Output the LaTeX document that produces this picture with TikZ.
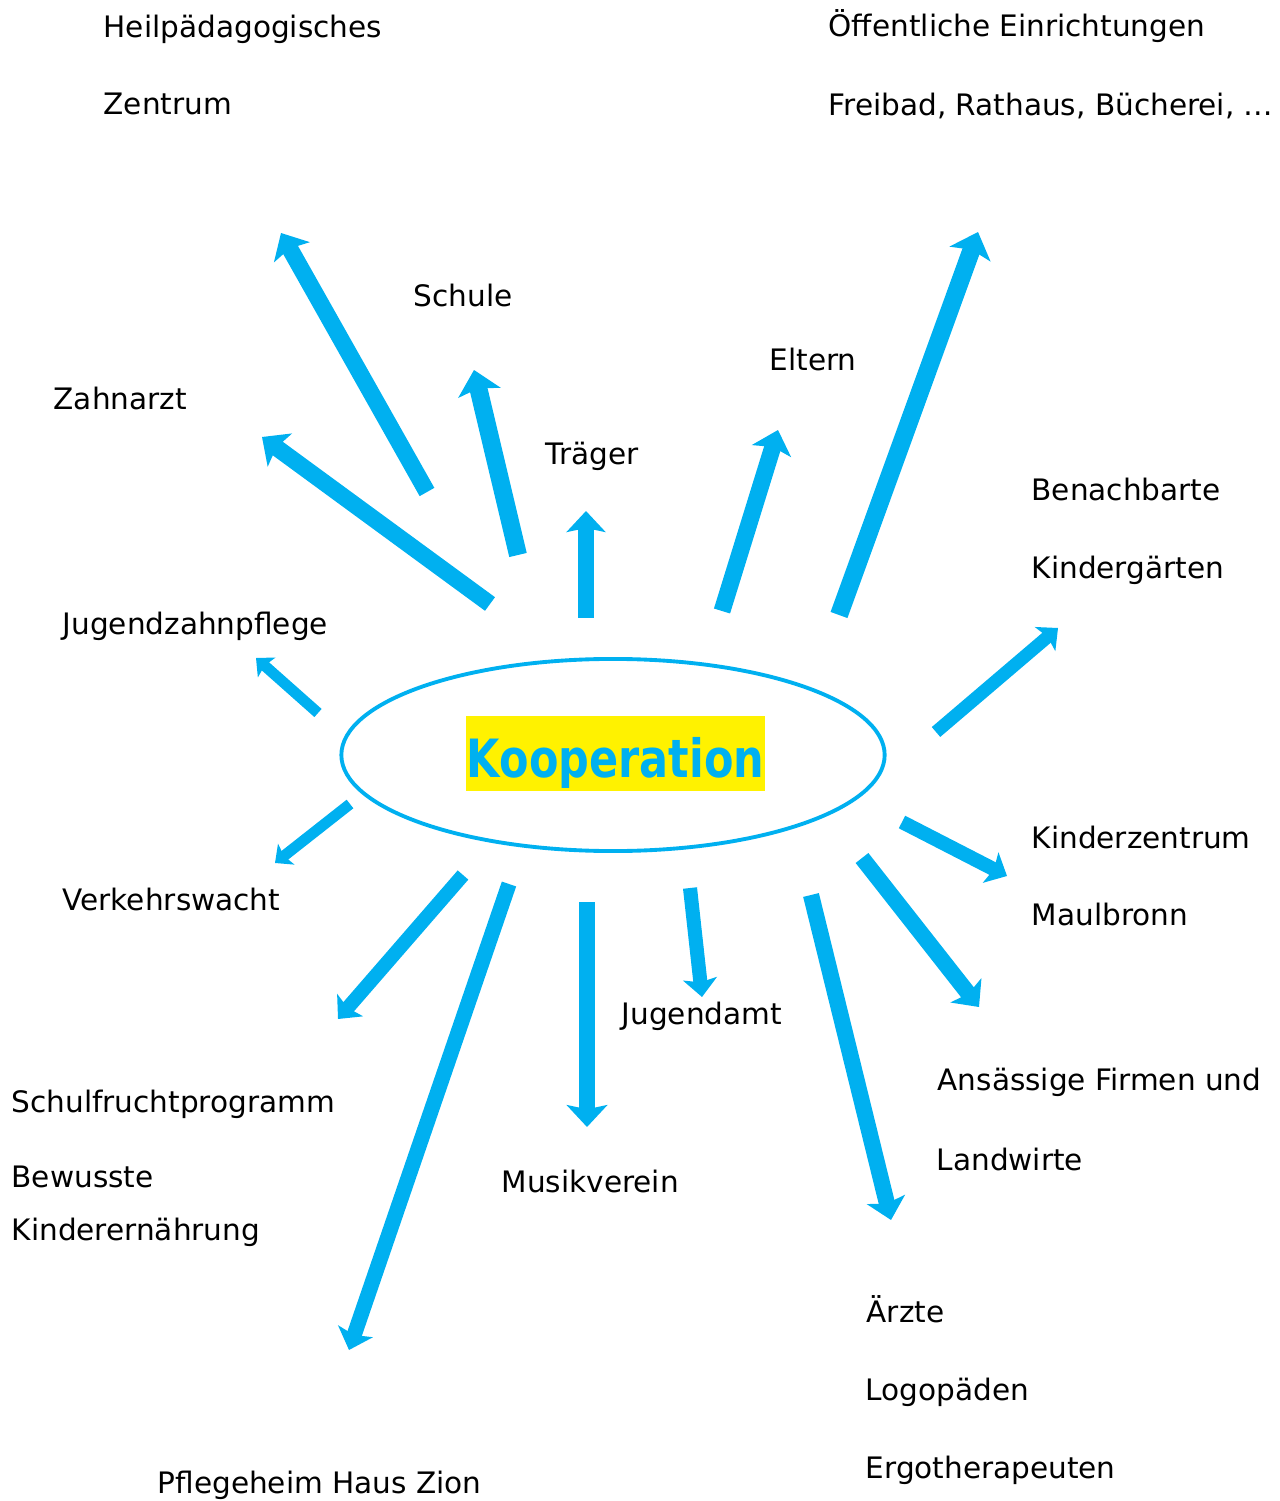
\documentclass[tikz,border=0pt]{standalone}
\usepackage{fontspec}
\setmainfont{DejaVu Sans}
\usepackage{tikz}
\usetikzlibrary{arrows.meta,shapes.geometric}

\definecolor{koopblau}{RGB}{0,176,240}

\tikzset{
	txt/.style={anchor=base west, inner sep=0pt, font=\fontsize{8.4}{10}\selectfont},
	pfeil/.style={draw=koopblau, line width=#1, -{Stealth[length=0pt 1.3, width=0pt 2.4, inset=0pt 0.25]}}
}

\begin{document}
\begin{tikzpicture}[x=0.01cm, y=-0.01cm]
	\useasboundingbox (0,0) rectangle (1279,1501);

	\node[ellipse, draw=koopblau, line width=1.1pt, minimum width=5.43cm, minimum height=1.92cm] (koop) at (613,755) {};
	\node[fill=yellow, text=koopblau, font=\bfseries\fontsize{15}{17}\selectfont, inner sep=0pt, minimum width=2.99cm, text height=0.61cm, text depth=0.14cm] (titel) at (615.5,753.5) {\scalebox{0.815}[1]{Kooperation}};

	\node[txt] (heil1) at (103,38) {Heilpädagogisches};
	\node[txt] (heil2) at (103,115) {Zentrum};
	\node[txt] (oeff1) at (828,37) {Öffentliche Einrichtungen};
	\node[txt] (oeff2) at (828,116) {Freibad, Rathaus, Bücherei, …};
	\node[txt] (schule) at (413,307) {Schule};
	\node[txt] (eltern) at (769,371) {Eltern};
	\node[txt] (zahnarzt) at (53,410) {Zahnarzt};
	\node[txt] (traeger) at (545,465) {Träger};
	\node[txt] (bena1) at (1031,501) {Benachbarte};
	\node[txt] (bena2) at (1031,579) {Kindergärten};
	\node[txt] (jzp) at (62,634) {Jugendzahnpflege};
	\node[txt] (verkehr) at (62,910) {Verkehrswacht};
	\node[txt] (kiz1) at (1031,848) {Kinderzentrum};
	\node[txt] (kiz2) at (1031,925) {Maulbronn};
	\node[txt] (jugendamt) at (621,1024) {Jugendamt};
	\node[txt] (firmen1) at (937,1090) {Ansässige Firmen und};
	\node[txt] (firmen2) at (936,1170) {Landwirte};
	\node[txt] (obst) at (11,1112) {Schulfruchtprogramm};
	\node[txt] (musik) at (501,1192) {Musikverein};
	\node[txt] (ernaehr1) at (11,1187) {Bewusste};
	\node[txt] (ernaehr2) at (11,1240) {Kinderernährung};
	\node[txt] (aerzte) at (866,1322) {Ärzte};
	\node[txt] (logo) at (865,1400) {Logopäden};
	\node[txt] (ergo) at (865,1478) {Ergotherapeuten};
	\node[txt] (pflege) at (157,1493) {Pflegeheim Haus Zion};

	% Heilpaedagogisches Zentrum
	\coordinate (heil-a) at (427,492);
	\coordinate (heil-b) at (281,233);
	\draw[pfeil=4.8pt] (heil-a) -- (heil-b);
	% Zahnarzt
	\coordinate (zahn-a) at (490,604);
	\coordinate (zahn-b) at (262,437);
	\draw[pfeil=4.8pt] (zahn-a) -- (zahn-b);
	% Schule
	\coordinate (schule-a) at (518,555);
	\coordinate (schule-b) at (474,370);
	\draw[pfeil=5.1pt] (schule-a) -- (schule-b);
	% Traeger
	\coordinate (traeger-a) at (586,618);
	\coordinate (traeger-b) at (586,511);
	\draw[pfeil=4.6pt] (traeger-a) -- (traeger-b);
	% Eltern
	\coordinate (eltern-a) at (722,611);
	\coordinate (eltern-b) at (778,430);
	\draw[pfeil=4.8pt] (eltern-a) -- (eltern-b);
	% Oeffentliche Einrichtungen
	\coordinate (oeff-a) at (839,615);
	\coordinate (oeff-b) at (978,232);
	\draw[pfeil=5.1pt] (oeff-a) -- (oeff-b);
	% Benachbarte Kindergaerten
	\coordinate (bena-a) at (936,732);
	\coordinate (bena-b) at (1058,628);
	\draw[pfeil=3.7pt] (bena-a) -- (bena-b);
	% Kinderzentrum
	\coordinate (kiz-a) at (902,822);
	\coordinate (kiz-b) at (1007,876);
	\draw[pfeil=4pt] (kiz-a) -- (kiz-b);
	% Firmen und Landwirte
	\coordinate (firmen-a) at (862,858);
	\coordinate (firmen-b) at (979,1007);
	\draw[pfeil=4.6pt] (firmen-a) -- (firmen-b);
	% Aerzte
	\coordinate (aerzte-a) at (811,895);
	\coordinate (aerzte-b) at (891,1220);
	\draw[pfeil=4.6pt] (aerzte-a) -- (aerzte-b);
	% Jugendamt
	\coordinate (jamt-a) at (690,888);
	\coordinate (jamt-b) at (702,997);
	\draw[pfeil=4pt] (jamt-a) -- (jamt-b);
	% Musikverein
	\coordinate (musik-a) at (587,902);
	\coordinate (musik-b) at (587,1127);
	\draw[pfeil=4.8pt] (musik-a) -- (musik-b);
	% Pflegeheim
	\coordinate (pflege-a) at (509,884);
	\coordinate (pflege-b) at (349,1350);
	\draw[pfeil=4.3pt] (pflege-a) -- (pflege-b);
	% Schulfrucht
	\coordinate (obst-a) at (463,875);
	\coordinate (obst-b) at (338,1019);
	\draw[pfeil=4pt] (obst-a) -- (obst-b);
	% Verkehrswacht
	\coordinate (verkehr-a) at (350,804);
	\coordinate (verkehr-b) at (275,863);
	\draw[pfeil=3.1pt] (verkehr-a) -- (verkehr-b);
	% Jugendzahnpflege
	\coordinate (jzp-a) at (318,713);
	\coordinate (jzp-b) at (256,658);
	\draw[pfeil=3.1pt] (jzp-a) -- (jzp-b);
\end{tikzpicture}
\end{document}
